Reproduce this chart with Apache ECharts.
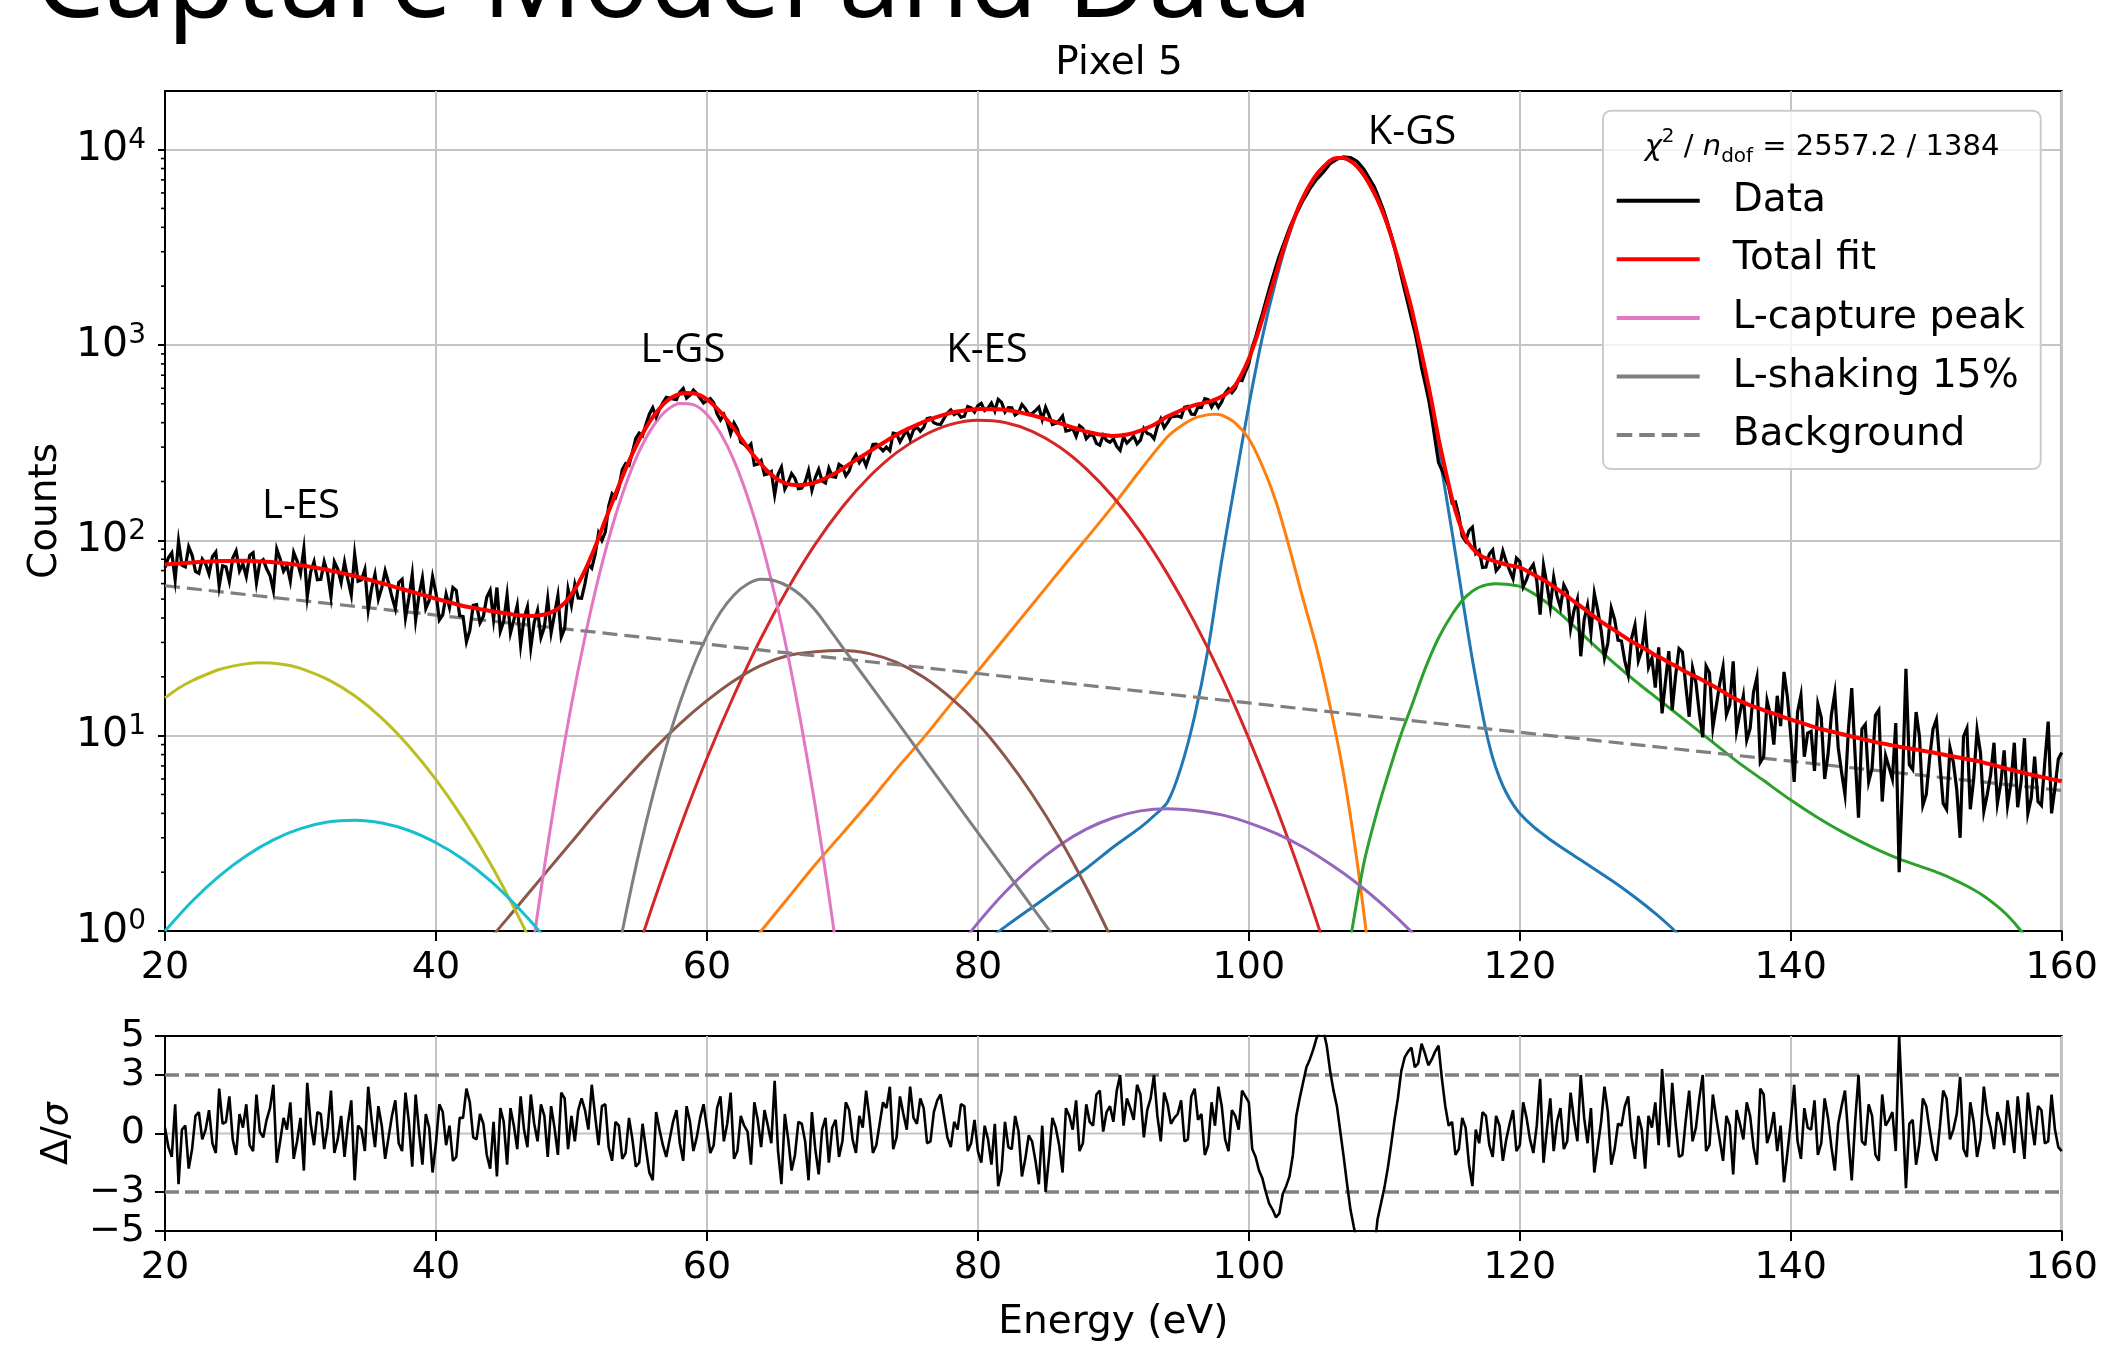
<!DOCTYPE html>
<html>
<head>
<meta charset="utf-8">
<script src="https://cdn.jsdelivr.net/npm/echarts@6/dist/echarts.min.js"></script>
<style>
html,body{margin:0;padding:0;background:#fff;}
#chart{width:2101px;height:1346px;}
</style>
</head>
<body>
<div id="chart"></div>
<script>
// Spectrum binning: bin centres start at 20 eV, 0.25 eV apart
const BIN_START = 20;
const BIN_WIDTH = 0.25;
// The total fit is tabulated on a 0.5 eV grid from the same start
const FIT_STEP = 0.5;

// Measured counts per bin
const counts = [
72.5,81.4,86.2,62.8,99.0,74.6,73.1,92.6,84.0,69.3,67.7,80.2,75.9,67.3,82.4,87.0,58.1,74.0,73.1,61.6,
81.2,88.2,69.6,75.8,65.2,83.7,86.3,60.5,77.1,79.6,71.5,66.1,55.3,90.2,80.2,69.4,74.3,61.8,86.6,78.4,
67.7,90.5,51.3,68.8,77.7,62.8,63.1,77.8,68.0,51.5,77.6,71.2,60.7,77.4,62.8,52.4,85.0,61.7,62.7,70.9,
44.0,56.8,67.1,50.0,57.2,69.7,60.5,51.4,44.7,60.8,63.1,40.0,50.6,66.9,39.1,52.5,64.2,44.8,49.2,65.1,
53.7,39.1,41.5,52.9,45.3,57.3,55.3,41.1,40.7,30.2,34.6,46.4,46.8,37.8,40.8,51.1,55.4,39.3,57.3,34.2,
38.5,52.6,33.5,39.1,46.5,29.1,39.9,45.6,28.2,37.9,43.8,31.8,35.9,50.1,33.6,41.8,52.1,32.0,35.4,56.1,
46.4,59.5,50.7,50.5,60.1,75.2,72.0,84.6,108.7,99.8,110.0,149.7,173.2,165.5,185.5,230.4,247.2,242.2,283,332.1,
354,342.6,392.5,442,476.7,426.7,468.7,506.3,540.1,534.9,529,524.3,573.9,598.3,534.7,552.7,587.4,563.7,533.2,504.2,
519.1,531.6,505.3,444.3,412.5,440.8,401.8,350.9,398.1,370.4,317.5,309.4,297.3,311,242.8,245.8,256,216.6,219,224.9,
170.8,217.9,236.7,183,198.2,219.4,207.3,183.7,185,198.6,227.4,180.6,209.3,230.8,201.1,196.5,233.9,212.1,210.6,244.6,
238.1,213.9,226.2,256.3,274.1,249.8,266,241.3,271.5,309.6,310.4,298.7,286.7,299.6,287.3,353.7,350.7,318.8,343,365.2,
329.4,367.3,380.1,361.2,377.9,420.1,424.2,399.4,392.8,391.9,420.1,448.7,464.8,440.2,451.7,426.9,431.9,483.4,476.8,452.9,
489.5,502.6,461.3,476,503.7,457.7,526.3,508.1,453,478.1,477.1,437.3,450.9,495.6,472.4,443.1,445.4,461.1,480.8,414.3,
479.2,437.4,391.8,397,409.9,432.6,362.4,365.4,374.1,340.7,386.3,374.1,331.5,345.7,346.5,313.6,306.9,344.6,324.5,317.6,
330.9,302.3,288.5,338.6,314.3,327.2,341.8,312,325.8,373.8,352.7,347.7,330.9,382,418.1,377.5,399.8,428.5,430.1,433.7,
426.4,479.2,484.6,443.2,440.9,480.9,478.6,530.8,524.6,481.5,515.8,479.1,511.4,566.6,596.6,569.1,599.6,663.3,656.3,728.8,
802.4,975,1099,1266,1445,1674,1932,2207,2525,2857,3190,3557,3962,4335,4688,5070,5495,5863,6291,6656,
7035,7341,7671,8051,8481,8707,8917,9045,9174,9140,9094,8901,8695,8306,7925,7397,6913,6480,5878,5316,
4758,4195,3656,3141,2681,2253,1902,1617,1368,1168,961,762,640,533,424,325,250,229,209,188.4,
155.3,157.2,134,104.9,99,112.2,116.7,85.7,88.9,72.6,72.9,85.1,89.3,69.8,73.3,88.2,77.7,70.2,63.6,81.0,
77.8,57.8,63.1,70.8,75.1,62.2,41.6,74.5,59.6,45.7,64.7,51.8,45.2,59.1,54.6,35.3,43.7,50.0,25.5,39.3,
46.6,33.6,53.5,43.9,34.6,25.0,29.8,45.0,39.3,30.8,30.5,24.1,20.5,31.5,36.8,24.2,27.3,37.2,22.4,24.9,
17.6,28.3,13.0,18.9,27.1,13.5,20.3,27.9,26.8,18.0,12.5,22.2,18.7,13.0,9.8,22.7,21.0,11.0,14.2,18.4,
22.5,12.8,14.4,24.0,10.6,13.1,16.0,9.5,10.9,16.7,19.9,7.3,7.8,15.1,12.7,9.0,16.0,11.2,21.2,15.8,
10.0,5.8,13.2,16.1,7.8,10.3,10.5,6.6,14.5,12.4,6.0,8.0,12.8,16.5,8.7,6.5,5.0,10.6,17.5,7.9,
3.8,10.8,11.4,5.8,6.8,12.7,13.5,4.6,7.9,6.9,6.0,11.6,2.0,5.8,22,7.1,6.7,13.2,9.9,4.4,
5.0,7.7,10.8,12.1,7.3,4.5,4.2,8.7,7.3,5.3,3.0,9.9,10.9,4.2,6.0,10.7,8.2,4.1,5.0,6.3,
9.2,4.5,5.7,8.4,4.4,5.7,9.2,4.3,5.8,9.7,4.0,4.8,7.8,4.6,4.4,7.3,11.8,4.0,5.4,7.6,
8.2
];

// Total fit, 0.5 eV grid
const totalFit = [
75.1,75.6,76.1,76.6,77.0,77.4,77.7,78.0,78.3,78.4,
78.5,78.5,78.5,78.3,78.0,77.7,77.3,76.7,76.0,75.3,
74.6,73.6,72.6,71.6,70.5,69.3,68.1,66.9,65.6,64.3,
63.0,61.6,60.3,59.0,57.6,56.3,55.0,53.8,52.6,51.4,
50.2,49.2,48.1,47.1,46.1,45.4,44.8,44.1,43.5,42.9,
42.4,41.9,41.4,41.2,41.0,41.2,41.7,42.8,44.7,47.8,
52.9,60.0,70.1,84.0,102.6,127,155.7,191,232,278,
327,377,427,473,513,543,562,568,566,552,
526,492,453,412,373,334,299,269,245,225,
210,200,194,192,192,194,198,204,212,221,
232,245,258,271,285,300,315,331,347,362,
376,390,404,416,428,439,450,456,462,466,
470,470,469,468,466,460,453,445,437,427,
418,408,398,388,378,369,360,354,348,345,
342,344,348,355,364,376,390,410,431,447,
463,478,492,501,511,525,544,575,622,715,
849,1060,1360,1780,2318,3020,3826,4750,5691,6600,
7458,8150,8781,9050,9060,8730,8188,7400,6478,5550,
4569,3620,2776,2080,1541,1080,752,510,332,230,
163,125,102,91,84.3,81,78.6,76.8,75.1,73.9,
72.7,69.8,66.9,64.0,61.2,57.9,54.8,51.7,48.6,45.9,
43.3,40.7,38.3,36.4,34.6,32.8,31.1,29.7,28.4,27.1,
25.8,24.8,23.7,22.7,21.7,20.8,20.0,19.2,18.4,17.6,
16.8,16.0,15.3,14.8,14.3,13.9,13.5,13.1,12.8,12.4,
12.1,11.8,11.5,11.2,10.9,10.7,10.5,10.3,10.1,9.9,
9.72,9.53,9.35,9.2,9.06,8.92,8.78,8.66,8.54,8.43,
8.31,8.19,8.07,7.94,7.82,7.7,7.59,7.47,7.36,7.2,
7.06,6.91,6.76,6.63,6.5,6.37,6.25,6.15,6.04,5.94,
5.84
];

// Normalised residuals per bin (0.25 eV grid)
const residuals = [
0.3,-0.7,-1.2,1.5,-2.6,0.2,0.4,-1.8,-0.8,0.9,1.1,-0.3,0.2,1.2,-0.5,-1.0,2.3,0.5,0.6,1.9,
-0.3,-1.1,1.0,0.3,1.5,-0.6,-0.9,2.0,0.1,-0.2,0.7,1.3,2.5,-1.5,-0.4,0.8,0.2,1.6,-1.3,-0.4,
0.8,-1.9,2.6,0.5,-0.6,1.1,1.0,-0.8,0.3,2.2,-1.0,-0.3,0.9,-1.2,0.5,1.7,-2.4,0.4,0.2,-0.9,
2.4,0.7,-0.7,1.4,0.4,-1.3,-0.2,0.9,1.7,-0.5,-0.9,2.1,0.6,-1.7,2.0,0.1,-1.6,1.0,0.3,-2.0,
-0.5,1.5,1.1,-0.6,0.4,-1.4,-1.2,0.8,0.8,2.3,1.6,-0.2,-0.3,1.0,0.5,-1.1,-1.8,0.6,-2.2,1.3,
0.6,-1.6,1.3,0.4,-0.8,1.9,0.2,-0.7,2.0,0.5,-0.4,1.5,0.9,-1.2,1.4,0.3,-1.1,2.1,1.8,-0.8,
0.9,-0.4,1.2,1.8,1.2,0.2,2.5,0.9,-0.6,1.4,1.5,-0.7,-1.4,0.6,0.4,-1.3,-1.0,0.8,-0.3,-1.7,
-1.5,0.5,-0.8,-2.0,-2.4,1.1,0.2,-0.6,-1.2,-0.3,0.6,1.2,-0.5,-1.4,1.4,0.6,-0.9,-0.2,0.8,1.5,
0.3,-1.0,-0.6,1.3,1.9,-0.4,0.5,2.1,-1.3,-0.9,0.9,0.4,0.1,-1.6,1.6,0.7,-0.7,1.2,0.4,-0.5,
2.7,-0.9,-2.6,1.0,-0.3,-1.9,-1.1,0.6,0.5,-0.4,-2.4,1.1,-0.8,-2.1,0.2,0.8,-1.5,0.3,0.7,-1.2,
-0.4,1.6,1.2,-0.3,-1.0,0.9,0.3,2.2,0.8,-1.0,-0.6,0.5,1.6,1.3,2.4,-0.8,-0.2,1.9,1.0,0.2,
2.4,0.8,0.5,1.8,1.3,-0.5,-0.4,1.1,1.7,2.0,0.9,-0.2,-0.7,0.6,0.2,1.5,1.4,-0.9,-0.5,0.7,
-0.9,-1.5,0.4,-0.3,-1.6,0.5,-2.7,-1.9,0.6,-0.7,-0.8,0.9,0.1,-2.2,-1.3,-0.1,-0.4,-1.4,-2.6,0.4,
-3.0,-1.2,0.8,0.3,-0.6,-2.0,1.3,0.9,0.2,1.7,-0.9,-0.5,1.5,0.6,0.4,2.0,2.2,0.1,1.1,1.4,
0.6,2.2,3.0,0.4,1.8,1.3,0.7,2.5,2.0,-0.2,1.2,1.8,3.0,0.9,-0.4,2.1,1.5,0.5,0.8,1.0,
1.7,-0.4,-0.3,1.9,2.3,0.7,1.0,-1.1,-0.6,1.6,0.4,2.4,1.4,-0.3,-0.9,1.2,0.9,0.2,2.2,1.9,
1.6,-0.8,-1.2,-1.9,-2.3,-3.0,-3.6,-3.9,-4.3,-4.1,-3.1,-2.7,-2.2,-1.1,0.9,1.8,2.6,3.4,3.8,4.3,
4.9,5.2,5.3,4.5,3.2,2.2,1.4,0.1,-1.2,-2.6,-3.9,-4.8,-5.6,-5.8,-6.1,-5.5,-5.4,-6.0,-4.4,-3.6,
-2.8,-1.8,-0.6,0.7,1.8,3.2,3.9,4.2,4.4,3.4,3.6,4.6,4.1,3.5,3.8,4.2,4.5,2.8,1.4,0.4,
0.6,-1.1,-0.8,0.8,0.3,-1.6,-2.7,0.2,-0.5,1.1,0.9,-0.6,-1.2,0.9,0.4,-1.4,-0.3,0.5,1.2,-0.9,
-0.6,1.6,0.8,-0.3,-1.0,0.4,2.8,-1.5,0.2,1.8,-0.9,0.6,1.3,-0.8,-0.4,2.1,0.7,-0.4,3.0,0.8,
-0.5,1.3,-2.0,-0.7,0.6,2.4,1.1,-1.6,-0.8,0.5,0.4,1.4,1.9,-0.2,-1.3,0.9,0.2,-1.8,0.9,0.3,
1.6,-0.6,3.3,1.1,-0.7,2.6,0.5,-1.2,-1.1,0.7,2.2,-0.4,0.3,1.8,3.0,-0.9,-0.6,2.0,0.8,-0.3,
-1.4,0.9,0.4,-2.1,1.2,0.5,-0.3,1.6,0.9,-0.7,-1.6,2.3,2.0,-0.5,0.1,1.1,-0.9,0.4,-2.5,-1.0,
0.6,2.5,-0.4,-1.3,1.3,0.3,0.2,1.7,-1.1,-0.5,1.8,0.8,-0.7,-1.9,0.5,1.4,2.2,-0.2,-2.4,0.6,
3.0,-0.4,-0.6,1.5,0.9,-1.1,-1.4,2.0,0.4,0.7,1.1,-0.9,5.0,1.2,-2.8,0.5,0.7,-1.6,-0.5,1.8,
1.4,0.2,-0.9,-1.4,0.3,2.2,1.8,-0.3,0.2,1.0,2.9,-0.8,-1.2,1.6,0.6,-1.2,-0.3,2.4,1.0,0.3,
-0.8,1.1,0.5,-0.6,1.7,0.4,-1.0,1.9,0.3,-1.3,2.1,0.6,-0.6,1.4,1.2,-0.5,-0.4,2.0,0.2,-0.7,
-0.9
];

// Fit components, [energy (eV), counts]
const background = [[20,58.5],[40,41.4],[60,29.4],[80,20.8],[100,14.7],[120,10.4],[140,7.40],[160,5.24]];

const kGsPeak = [[81,0.93],[82,1.05],[84,1.32],[86,1.66],[88,2.09],[90,2.69],[92,3.39],[93,3.89],[94,4.57],[95,6.9],[96,12.6],[97,28],[98,79],[99,200],[100,490],[101,1096],[102,2138],[103,3715],[104,5623],[105,7413],[106,8750],[106.8,9060],[107.5,8710],[108,8170],[109,6460],[110,4550],[111,2754],[112,1514],[113,718],[114,288],[115,110],[116,39.8],[116.5,24.5],[117,15.8],[117.5,10.6],[118,7.7],[118.5,6.1],[119,5.1],[119.5,4.45],[120,4.0],[121,3.42],[122,3.02],[123,2.70],[124,2.43],[125,2.19],[126,1.97],[127,1.77],[128,1.58],[129,1.40],[130,1.23],[131,1.07],[132,0.92],[133,0.79]];

const kShake = [[62,0.69],[64,1.0],[66,1.48],[68,2.19],[70,3.16],[72,4.57],[74,6.76],[76,9.77],[78,14.5],[80,21.4],[82,31.6],[84,46.8],[86,69.2],[88,102],[90,151],[92,229],[94,339],[95,385],[96,422],[97,440],[97.5,442],[98,437],[99,398],[100,331],[101,240],[102,158],[103,91.2],[104,50.1],[105,28.2],[106,14.1],[107,6.31],[108,2.24],[109,0.63],[110,0.15]];

const kGsHigh = [[107,0.55],[107.6,1.0],[108.5,2.24],[109.5,4.17],[110.5,7.08],[111.2,10],[112,14.1],[113,21.9],[114,31.6],[115,41.7],[116,51.3],[117,57.5],[118.2,60],[119,59.6],[120,58.1],[121,53.5],[122,47.9],[123,42.0],[124,36.3],[125,31.2],[126,26.9],[127,23.4],[128,20.4],[129,17.9],[130,15.8],[132,12.3],[134,9.55],[136,7.41],[138,5.89],[140,4.68],[142,3.80],[144,3.16],[146,2.69],[148,2.34],[150,2.09],[151,1.97],[152,1.84],[153,1.70],[154,1.55],[155,1.38],[156,1.20],[157,1.0],[158,0.8]];

const kEs = [[54,0.51],[56,1.36],[58,3.36],[60,7.66],[62,16.1],[64,31.6],[66,57.0],[68,95.5],[70,148],[72,212],[74,281],[76,344],[78,392],[80,412],[82,401],[84,361],[86,301],[88,232],[90,166],[92,110],[94,67.1],[96,38.0],[98,20.0],[100,9.66],[102,4.34],[104,1.80],[106,0.69],[108,0.25]];

const kEsShake = [[78,0.73],[80,1.10],[82,1.58],[84,2.14],[86,2.74],[88,3.32],[90,3.80],[92,4.12],[94,4.23],[96,4.14],[98,3.93],[100,3.58],[102,3.16],[104,2.69],[106,2.20],[108,1.75],[110,1.34],[112,0.99],[114,0.70]];

const lEsShake = [[42,0.6],[44,0.91],[46,1.33],[48,1.95],[50,2.85],[52,4.17],[54,5.96],[56,8.41],[58,11.5],[60,15.1],[62,19.1],[64,22.9],[66,25.7],[68,26.9],[70,27.3],[72,26.3],[74,23.7],[76,19.9],[78,15.6],[80,11.5],[82,7.83],[84,5.01],[86,3.0],[88,1.67],[90,0.87],[92,0.43]];

const lCapture = [[46,0.21],[47,0.70],[48,2.12],[49,5.81],[50,14.4],[51,32.0],[52,64.4],[53,117],[54,192],[55,285],[56,381],[57,461],[58,502],[59,495],[60,441],[61,353],[62,256],[63,167],[64,99],[65,52.8],[66,25.4],[67,11.0],[68,4.34],[69,1.53],[70,0.49],[71,0.14]];

const lShake = [[52,0.22],[53,0.54],[54,1.21],[55,2.54],[56,4.91],[57,8.81],[58,14.7],[59,22.6],[60,32.3],[61,42.8],[62,52.5],[63,59.7],[64,63.1],[65,62.1],[66,58.1],[67,51.8],[68,43.8],[69,35.4],[70,28.4],[72,18.4],[74,11.9],[76,7.66],[78,4.94],[80,3.19],[82,2.06],[84,1.33],[86,0.86],[88,0.55]];

const lEs = [[20,15.6],[21,17.5],[22,19.1],[23,20.5],[24,21.8],[25,22.7],[26,23.3],[27,23.6],[28,23.5],[29,23.0],[30,22.1],[32,19.4],[34,16.0],[36,12.3],[38,8.83],[40,5.96],[42,3.76],[44,2.22],[46,1.22],[48,0.63]];

const lEsHigh = [[20,1.0],[22,1.42],[24,1.91],[26,2.43],[28,2.93],[30,3.34],[32,3.61],[34,3.69],[36,3.57],[38,3.27],[40,2.83],[42,2.33],[44,1.81],[46,1.33],[48,0.93],[50,0.61]];

// Axis ticks and labels
const countDecades = [1, 10, 100, 1000, 10000];
const residualTicks = [-5, -3, 0, 3, 5];
const residualBands = [-3, 3];
const legendEntries = ['Data', 'Total fit', 'L-capture peak', 'L-shaking 15%', 'Background'];
const peakLabels = [
  { text: 'L-ES', x: 301, y: 507 },
  { text: 'L-GS', x: 683, y: 351 },
  { text: 'K-ES', x: 987, y: 351 },
  { text: 'K-GS', x: 1412, y: 133 }
];

const FONT = 'DejaVu Sans';
const onGrid = (arr, step) => arr.map((v, i) => [BIN_START + i * step, v]);

// minor ticks of the log axis: 2..9 x 10^n
const minorTicks = [];
countDecades.slice(0, 4).forEach(d => { for (let k = 2; k <= 9; k++) minorTicks.push([BIN_START, k * d]); });

const GRID_L = 165, GRID_W = 1899;

function componentSeries(name, data, color) {
  return {
    name, type: 'line', data, xAxisIndex: 0, yAxisIndex: 0,
    showSymbol: false, symbol: 'none', smooth: 0.3, clip: true, silent: true, z: 2,
    lineStyle: { color, width: 3 }, itemStyle: { color }
  };
}

function powerLabel(v) {
  const p = Math.log10(v);
  const r = Math.round(p);
  if (Math.abs(p - r) > 1e-6) return '';
  return '{b|10}{s|' + r + '}';
}

const tickFont = { fontFamily: FONT, fontSize: 38, color: '#000' };
const solidIcon = 'path://M0 0H80V4H0Z';
const dashIcon = 'path://M0 0H15V4H0Z M21.7 0H36.7V4H21.7Z M43.3 0H58.3V4H43.3Z M65 0H80V4H65Z';
const legendColors = { 'Data': '#000000', 'Total fit': '#ff0000', 'L-capture peak': '#e377c2', 'L-shaking 15%': '#7f7f7f', 'Background': '#7f7f7f' };

const chart = echarts.init(document.getElementById('chart'), null, { renderer: 'canvas', width: 2101, height: 1346 });

const option = {
  animation: false,
  backgroundColor: '#ffffff',
  title: {
    text: 'Pixel 5', left: 1114, top: 39, textAlign: 'center',
    textStyle: { fontFamily: FONT, fontSize: 39, fontWeight: 'normal', color: '#000', lineHeight: 39 }
  },
  grid: [
    { left: GRID_L, top: 91, width: GRID_W, height: 840, show: true, borderColor: '#000', borderWidth: 2, backgroundColor: 'transparent' },
    { left: GRID_L, top: 1036, width: GRID_W, height: 195, show: true, borderColor: '#000', borderWidth: 2, backgroundColor: 'transparent' }
  ],
  xAxis: [
    {
      type: 'value', gridIndex: 0, min: 20, max: 160, interval: 20,
      axisLine: { show: true, onZero: false, lineStyle: { color: '#000', width: 2 } },
      axisTick: { show: true, length: 10, lineStyle: { color: '#000', width: 2 } },
      axisLabel: Object.assign({ margin: 18, lineHeight: 38 }, tickFont),
      splitLine: { show: true, lineStyle: { color: '#c4c4c4', width: 2 } }
    },
    {
      type: 'value', gridIndex: 1, min: 20, max: 160, interval: 20,
      axisLine: { show: true, onZero: false, lineStyle: { color: '#000', width: 2 } },
      axisTick: { show: true, length: 10, lineStyle: { color: '#000', width: 2 } },
      axisLabel: Object.assign({ margin: 18, lineHeight: 38 }, tickFont),
      splitLine: { show: true, lineStyle: { color: '#c4c4c4', width: 2 } },
      name: 'Energy (eV)', nameLocation: 'middle', nameGap: 73,
      nameTextStyle: { fontFamily: FONT, fontSize: 39, color: '#000', lineHeight: 38 }
    }
  ],
  yAxis: [
    {
      type: 'log', logBase: 10, gridIndex: 0, min: 1, max: 19950,
      axisLine: { show: true, onZero: false, lineStyle: { color: '#000', width: 2 } },
      axisTick: { show: true, length: 7, customValues: countDecades, lineStyle: { color: '#000', width: 2 } },
      axisLabel: {
        margin: 19, customValues: countDecades, formatter: powerLabel,
        rich: {
          b: { fontFamily: FONT, fontSize: 41, color: '#000', lineHeight: 46 },
          s: { fontFamily: FONT, fontSize: 28, color: '#000', lineHeight: 28, verticalAlign: 'top' }
        }
      },
      splitLine: { show: true, lineStyle: { color: '#c4c4c4', width: 2 } },
      name: 'Counts', nameLocation: 'middle', nameGap: 99,
      nameTextStyle: { fontFamily: FONT, fontSize: 39, color: '#000', lineHeight: 38 }
    },
    {
      type: 'value', gridIndex: 1, min: -5, max: 5,
      axisLine: { show: true, onZero: false, lineStyle: { color: '#000', width: 2 } },
      axisTick: { show: true, length: 10, customValues: residualTicks, lineStyle: { color: '#000', width: 2 } },
      axisLabel: Object.assign({
        margin: 20, customValues: residualTicks, lineHeight: 38,
        formatter: v => (v < 0 ? '\u2212' + Math.abs(v) : String(v))
      }, tickFont),
      splitLine: { show: false },
      name: '{n|\u0394/}{i|\u03c3}', nameLocation: 'middle', nameGap: 89,
      nameTextStyle: {
        rich: {
          n: { fontFamily: FONT, fontSize: 38, color: '#000', lineHeight: 38 },
          i: { fontFamily: FONT, fontSize: 38, fontStyle: 'italic', color: '#000', lineHeight: 38 }
        }
      }
    }
  ],
  legend: {
    orient: 'vertical', left: 1603, top: 110.7,
    padding: [70, 16, 14, 13.7],
    itemWidth: 83, itemHeight: 4, itemGap: 18.6,
    symbolKeepAspect: false, selectedMode: false,
    backgroundColor: 'rgba(255,255,255,0.8)',
    borderColor: '#cccccc', borderWidth: 2, borderRadius: 8,
    textStyle: { fontFamily: FONT, fontSize: 39, color: '#000', lineHeight: 40, padding: [0, 0, 0, 28] },
    data: legendEntries.map(n => ({
      name: n, icon: n === 'Background' ? dashIcon : solidIcon,
      itemStyle: { color: legendColors[n], borderWidth: 0 }
    })),
    z: 8
  },
  graphic: [
    {
      type: 'text', x: 34, y: -15, z: 20, silent: true,
      style: { text: 'Capture Model and Data', fontFamily: 'Open Sans', fontSize: 112, fill: '#000', align: 'left', verticalAlign: 'middle' }
    },
    {
      type: 'text', x: 1822, y: 147, z: 20, silent: true,
      style: {
        text: '{i|\u03c7}{sp|2}{n| / }{i|n}{sb|dof}{n| = 2557.2 / 1384}',
        align: 'center', verticalAlign: 'middle',
        rich: {
          n: { fontFamily: FONT, fontSize: 29, fill: '#000', lineHeight: 40 },
          i: { fontFamily: FONT, fontSize: 29, fontStyle: 'italic', fill: '#000', lineHeight: 40 },
          sp: { fontFamily: FONT, fontSize: 20, fill: '#000', lineHeight: 24, verticalAlign: 'top' },
          sb: { fontFamily: FONT, fontSize: 20, fill: '#000', lineHeight: 22, verticalAlign: 'bottom' }
        }
      }
    }
  ].concat(peakLabels.map(p => ({
    type: 'text', x: p.x, y: p.y, z: 20, silent: true,
    style: { text: p.text, fontFamily: 'Open Sans', fontSize: 40, fill: '#000', align: 'center', verticalAlign: 'middle' }
  }))),
  series: [
    componentSeries('K-GS', kGsPeak, '#1f77b4'),
    componentSeries('K-shaking', kShake, '#ff7f0e'),
    componentSeries('K-GS high', kGsHigh, '#2ca02c'),
    componentSeries('K-ES', kEs, '#d62728'),
    componentSeries('K-ES shaking', kEsShake, '#9467bd'),
    componentSeries('L-ES shaking', lEsShake, '#8c564b'),
    componentSeries('L-capture peak', lCapture, '#e377c2'),
    componentSeries('L-shaking 15%', lShake, '#7f7f7f'),
    componentSeries('L-ES', lEs, '#bcbd22'),
    componentSeries('L-ES high', lEsHigh, '#17becf'),
    {
      name: 'Background', type: 'line', data: background, xAxisIndex: 0, yAxisIndex: 0,
      showSymbol: false, symbol: 'none', silent: true, z: 3,
      lineStyle: { color: '#7f7f7f', width: 3.2, type: [15, 7] }, itemStyle: { color: '#7f7f7f' }
    },
    {
      name: 'Data', type: 'line', data: onGrid(counts, BIN_WIDTH), xAxisIndex: 0, yAxisIndex: 0,
      showSymbol: false, symbol: 'none', silent: true, z: 4,
      lineStyle: { color: '#000', width: 3.2, join: 'miter' }, itemStyle: { color: '#000' }
    },
    {
      name: 'Total fit', type: 'line', data: onGrid(totalFit, FIT_STEP), xAxisIndex: 0, yAxisIndex: 0,
      smooth: 0.2, showSymbol: false, symbol: 'none', silent: true, z: 5,
      lineStyle: { color: '#ff0000', width: 4 }, itemStyle: { color: '#ff0000' }
    },
    {
      name: 'minor ticks', type: 'custom', xAxisIndex: 0, yAxisIndex: 0, clip: false, silent: true, z: 6,
      data: minorTicks,
      renderItem: (params, api) => {
        const p = api.coord([api.value(0), api.value(1)]);
        return { type: 'line', shape: { x1: p[0] - 4, y1: p[1], x2: p[0], y2: p[1] }, style: { stroke: '#000', lineWidth: 1.6 } };
      }
    },
    {
      name: 'zero level', type: 'line', xAxisIndex: 1, yAxisIndex: 1, silent: true, z: 1,
      data: [[20, 0], [160, 0]], showSymbol: false, symbol: 'none',
      lineStyle: { color: '#c4c4c4', width: 2 }
    }
  ].concat(residualBands.map(b => ({
    name: 'band ' + b, type: 'line', xAxisIndex: 1, yAxisIndex: 1, silent: true, z: 2,
    data: [[20, b], [160, b]], showSymbol: false, symbol: 'none',
    lineStyle: { color: '#7f7f7f', width: 3.6, type: [14, 6] }
  }))).concat([
    {
      name: 'Residuals', type: 'line', data: onGrid(residuals, BIN_WIDTH), xAxisIndex: 1, yAxisIndex: 1,
      showSymbol: false, symbol: 'none', silent: true, clip: true, z: 3,
      lineStyle: { color: '#000', width: 2.6 }
    }
  ])
};

chart.setOption(option);
</script>
</body>
</html>
